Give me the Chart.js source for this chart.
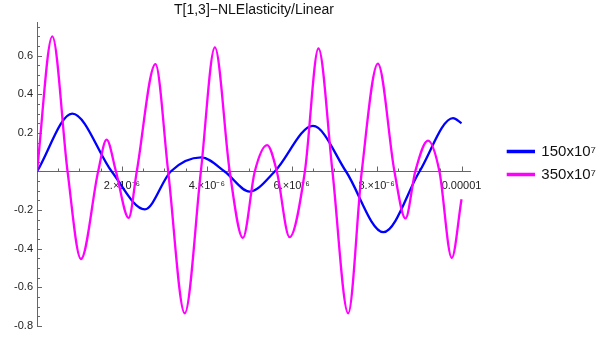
<!DOCTYPE html>
<html>
<head>
<meta charset="utf-8">
<script src="https://cdn.jsdelivr.net/npm/chart.js@4"></script>
<style>
html, body { margin: 0; padding: 0; background: #fff; }
canvas { display: block; }
</style>
</head>
<body>
<canvas id="chart" width="604" height="337"></canvas>
<script>
// time in microseconds (x 1e-6)
const t150 = [0, 0.83, 1.76, 2.54, 3.15, 3.87, 4.42, 5.01, 5.60, 6.50, 7.28, 8.16, 9.01, 9.80, 10.0];
const v150 = [0, 0.30, 0, -0.196, 0, 0.073, 0, -0.104, 0, 0.236, 0, -0.314, 0, 0.276, 0.25];

const t350 = [0, 0.36, 0.72, 1.035, 1.44, 1.64, 1.86, 2.16, 2.35, 2.79, 3.09, 3.48, 3.86, 4.19, 4.54,
              4.85, 5.13, 5.42, 5.65, 5.95, 6.31, 6.63, 6.96, 7.33, 7.65, 8.03, 8.42, 8.68, 8.91,
              9.21, 9.48, 9.77, 10.0];
const v350 = [0, 0.70, 0, -0.453, 0, 0.165, 0, -0.24, 0, 0.556, 0, -0.734, 0, 0.643, 0,
              -0.344, 0, 0.137, 0, -0.34, 0, 0.637, 0, -0.734, 0, 0.559, 0, -0.243, 0,
              0.16, 0, -0.448, -0.144];

const seriesNames = ['150x10\u2077', '350x10\u2077'];
const xLabelVals = [2, 4, 6, 8, 10];
const xLabelText = ['2.\u00d710\u207b\u2076', '4.\u00d710\u207b\u2076', '6.\u00d710\u207b\u2076', '8.\u00d710\u207b\u2076', '0.00001'];
const yLabelVals = [-0.8, -0.6, -0.4, -0.2, 0.2, 0.4, 0.6];

function toPoints(ts, vs) {
    return ts.map((t, i) => ({x: t, y: vs[i]}));
}

Chart.defaults.font.family = "'Liberation Sans', Arial, sans-serif";

// short inward tick marks like the original axes
const tickMarks = {
    id: 'tickMarks',
    beforeDatasetsDraw(chart) {
        const ctx = chart.ctx;
        const xs = chart.scales.x, ys = chart.scales.y;
        const y0 = ys.getPixelForValue(0);
        ctx.save();
        ctx.strokeStyle = '#666';
        ctx.lineWidth = 1;
        ctx.beginPath();
        ys.ticks.forEach(t => {
            const v = Math.round(t.value * 100);
            if (v === 0) return;
            const major = v % 20 === 0;
            const p = Math.round(ys.getPixelForValue(t.value)) + 0.5;
            ctx.moveTo(ys.right, p);
            ctx.lineTo(ys.right + (major ? 5 : 3), p);
        });
        xs.ticks.forEach(t => {
            const v = Math.round(t.value * 10);
            if (v === 0) return;
            const major = v % 20 === 0;
            const p = Math.round(xs.getPixelForValue(t.value)) + 0.5;
            ctx.moveTo(p, y0);
            ctx.lineTo(p, y0 - (major ? 5 : 3));
        });
        ctx.stroke();
        ctx.restore();
    }
};

// push the legend a bit away from the plot
const legendShift = {
    id: 'legendShift',
    afterLayout(chart) {
        const lg = chart.legend;
        lg.left += 29;
        lg.right += 29;
    }
};

function renderChart() {
    const ctx = document.getElementById('chart').getContext('2d');
    new Chart(ctx, {
        type: 'line',
        data: {
            datasets: [
                {
                    label: seriesNames[0],
                    data: toPoints(t150, v150),
                    borderColor: '#0000ff',
                    backgroundColor: '#0000ff',
                    borderWidth: 2.3,
                    pointRadius: 0,
                    cubicInterpolationMode: 'monotone',
                    order: 1
                },
                {
                    label: seriesNames[1],
                    data: toPoints(t350, v350),
                    borderColor: '#ff00ff',
                    backgroundColor: '#ff00ff',
                    borderWidth: 2.3,
                    pointRadius: 0,
                    cubicInterpolationMode: 'monotone',
                    order: 0
                }
            ]
        },
        options: {
            responsive: false,
            animation: false,
            layout: {padding: {left: 0, right: 27, top: 0, bottom: 11}},
            plugins: {
                title: {
                    display: true,
                    fullSize: false,
                    text: 'T[1,3]\u2212NLElasticity/Linear',
                    color: '#111',
                    font: {size: 14, weight: 'normal'},
                    padding: {top: 2, bottom: 4}
                },
                legend: {
                    position: 'right',
                    labels: {
                        color: '#111',
                        font: {size: 15},
                        boxWidth: 26,
                        boxHeight: 1,
                        padding: 8,
                        sort: (a, b) => a.datasetIndex - b.datasetIndex
                    }
                },
                tooltip: {enabled: false}
            },
            scales: {
                x: {
                    type: 'linear',
                    min: 0,
                    max: 10.22,
                    position: {y: 0},
                    afterFit(s) { s.height = 0; },
                    grid: {display: false, drawTicks: false},
                    border: {color: '#666', width: 1},
                    ticks: {
                        stepSize: 0.5,
                        includeBounds: false,
                        autoSkip: false,
                        maxRotation: 0,
                        padding: 8,
                        color: '#222',
                        font: {size: 11},
                        callback(v) {
                            const i = xLabelVals.findIndex(x => Math.abs(x - v) < 1e-6);
                            return i >= 0 ? xLabelText[i] : '';
                        }
                    }
                },
                y: {
                    min: -0.8,
                    max: 0.77,
                    afterFit(s) { s.width = 37; },
                    grid: {display: false, drawTicks: false},
                    border: {color: '#666', width: 1},
                    ticks: {
                        stepSize: 0.05,
                        includeBounds: false,
                        autoSkip: false,
                        padding: 4,
                        color: '#222',
                        font: {size: 11},
                        callback(v) {
                            const hit = yLabelVals.find(y => Math.abs(y - v) < 1e-6);
                            return hit !== undefined ? hit.toFixed(1) : '';
                        }
                    }
                }
            }
        },
        plugins: [tickMarks, legendShift]
    });
}
renderChart();
</script>
</body>
</html>
